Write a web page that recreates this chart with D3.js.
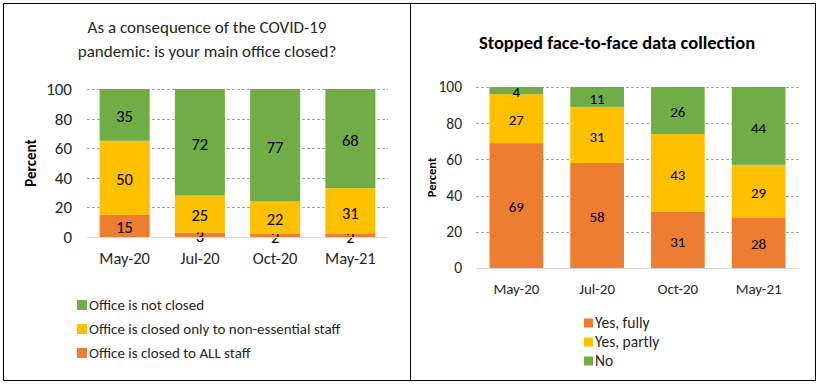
<!DOCTYPE html>
<html>
<head>
<meta charset="utf-8">
<script src="https://cdn.jsdelivr.net/npm/d3@7"></script>
<style>
  body { margin: 0; background: #fff; }
  svg { font-family: Calibri, Carlito, Lato, "Open Sans", sans-serif; }
</style>
</head>
<body>
<svg></svg>
<script>
var months = ['May-20', 'Jul-20', 'Oct-20', 'May-21'];
var yTicks = [0, 20, 40, 60, 80, 100];

// left chart: office closure
var officeSeries = ['Office is closed to ALL staff', 'Office is closed only to non-essential staff', 'Office is not closed'];
var officeAll = [15, 3, 2, 2];
var officeNonEssential = [50, 25, 22, 31];
var officeNotClosed = [35, 72, 77, 68];

// right chart: face-to-face collection
var f2fSeries = ['Yes, fully', 'Yes, partly', 'No'];
var f2fFully = [69, 58, 31, 28];
var f2fPartly = [27, 31, 43, 29];
var f2fNo = [4, 11, 26, 44];

var colors = ['#ED7D31', '#FFC000', '#70AD47'];

var width = 822,
  height = 385;

var svg = d3.select('svg')
  .attr('width', width)
  .attr('height', height);

// panel borders
svg.append('rect').attr('x', 3.5).attr('y', 3.5).attr('width', 407).attr('height', 377)
  .attr('fill', 'none').attr('stroke', '#000').attr('stroke-width', 1);
svg.append('rect').attr('x', 410.5).attr('y', 3.5).attr('width', 405).attr('height', 377)
  .attr('fill', 'none').attr('stroke', '#000').attr('stroke-width', 1);

drawChart({
  series: officeSeries,
  values: [officeAll, officeNonEssential, officeNotClosed],
  x0: 87, x1: 388, yTop: 89, yBottom: 237,
  padding: 0.335,
  fontTick: 17, fontLabel: 16.5, fontX: 16.5,
  tickX: 72, xLabelY: 264,
  percentX: 36, percentSize: 15,
  legend: { x: 77, y: 305, step: 24, size: 10, font: 15, order: [2, 1, 0] }
});

drawChart({
  series: f2fSeries,
  values: [f2fFully, f2fPartly, f2fNo],
  x0: 476, x1: 799, yTop: 87, yBottom: 268,
  padding: 0.335,
  fontTick: 15.5, fontLabel: 15, fontX: 15,
  tickX: 462, xLabelY: 294,
  percentX: 436, percentSize: 12.5,
  legend: { x: 584, y: 323, step: 19, size: 9, font: 15.5, order: [0, 1, 2] }
});

// titles
svg.append('text').attr('x', 207).attr('y', 33).attr('text-anchor', 'middle')
  .attr('font-size', 17).attr('fill', '#262626').text('As a consequence of the COVID-19');
svg.append('text').attr('x', 207).attr('y', 57).attr('text-anchor', 'middle')
  .attr('font-size', 17).attr('fill', '#262626').text('pandemic: is your main office closed?');
svg.append('text').attr('x', 617).attr('y', 49).attr('text-anchor', 'middle')
  .attr('font-size', 18.5).attr('font-weight', 'bold').attr('fill', '#000')
  .text('Stopped face-to-face data collection');

function drawChart(c) {
  var x = d3.scaleBand().domain(months).range([c.x0, c.x1]).paddingInner(c.padding).paddingOuter(c.padding / 2);
  var y = d3.scaleLinear().domain([0, 100]).range([c.yBottom, c.yTop]);

  var g = svg.append('g');

  // gridlines
  g.selectAll('.grid').data(yTicks.filter(d => d > 0)).join('line')
    .attr('x1', c.x0).attr('x2', c.x1)
    .attr('y1', d => Math.round(y(d)) + 0.5).attr('y2', d => Math.round(y(d)) + 0.5)
    .attr('stroke', '#a6a6a6').attr('stroke-dasharray', '3,2');

  // tick labels
  g.selectAll('.tick').data(yTicks).join('text')
    .attr('x', c.tickX).attr('y', d => y(d)).attr('dy', '0.35em')
    .attr('text-anchor', 'end').attr('font-size', c.fontTick).attr('fill', '#262626')
    .text(d => d);

  // stack
  var rows = months.map((m, i) => {
    var r = { month: m };
    c.values.forEach((v, k) => { r[k] = v[i]; });
    return r;
  });
  var stack = d3.stack().keys(c.values.map((v, k) => k))(rows);

  var layer = g.selectAll('.layer').data(stack).join('g')
    .attr('fill', (d, k) => colors[k]);

  layer.selectAll('rect').data(d => d).join('rect')
    .attr('x', d => x(d.data.month))
    .attr('width', x.bandwidth())
    .attr('y', d => y(Math.min(d[1], 100)))
    .attr('height', d => y(d[0]) - y(Math.min(d[1], 100)));

  // baseline
  g.append('line').attr('x1', c.x0).attr('x2', c.x1)
    .attr('y1', c.yBottom + 0.5).attr('y2', c.yBottom + 0.5)
    .attr('stroke', '#d9d9d9');

  // data labels
  layer.selectAll('text').data((d, k) => d.map(p => ({ p: p, k: k }))).join('text')
    .attr('x', d => x(d.p.data.month) + x.bandwidth() / 2)
    .attr('y', d => y((d.p[0] + Math.min(d.p[1], 100)) / 2))
    .attr('dy', '0.45em')
    .attr('text-anchor', 'middle').attr('font-size', c.fontLabel).attr('fill', '#000')
    .text(d => d.p.data[d.k]);

  // x labels
  g.selectAll('.xl').data(months).join('text')
    .attr('x', d => x(d) + x.bandwidth() / 2).attr('y', c.xLabelY)
    .attr('text-anchor', 'middle').attr('font-size', c.fontX).attr('fill', '#262626')
    .text(d => d);

  // axis title
  g.append('text')
    .attr('transform', 'translate(' + [c.percentX, (c.yTop + c.yBottom) / 2] + ') rotate(-90)')
    .attr('text-anchor', 'middle').attr('font-size', c.percentSize).attr('font-weight', 'bold')
    .attr('fill', '#000').text('Percent');

  // legend
  var leg = g.selectAll('.leg').data(c.legend.order).join('g')
    .attr('transform', (d, i) => 'translate(' + [c.legend.x, c.legend.y + i * c.legend.step] + ')');
  leg.append('rect').attr('x', 0).attr('y', -c.legend.size / 2)
    .attr('width', c.legend.size).attr('height', c.legend.size)
    .attr('fill', d => colors[d]);
  leg.append('text').attr('x', c.legend.size + 2).attr('dy', '0.35em')
    .attr('font-size', c.legend.font).attr('fill', '#262626')
    .text(d => c.series[d]);
}
</script>
</body>
</html>
